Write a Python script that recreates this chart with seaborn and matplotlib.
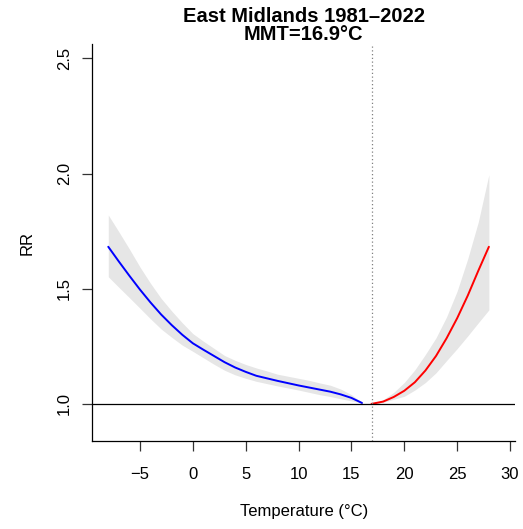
import matplotlib
matplotlib.use("Agg")
import matplotlib.pyplot as plt
import seaborn as sns
import pandas as pd
import numpy as np

# exposure-response (RR vs temperature)
mmt = 16.9
temp_cold = [-8, -7, -6, -5, -4, -3, -2, -1, 0, 1, 2, 3, 4, 5, 6, 7, 8, 9, 10, 11, 12, 13, 14, 15, 16]
rr_cold = [1.682, 1.618, 1.556, 1.496, 1.440, 1.388, 1.342, 1.300, 1.263, 1.235, 1.208, 1.181, 1.158,
           1.139, 1.122, 1.111, 1.100, 1.090, 1.080, 1.071, 1.062, 1.053, 1.041, 1.026, 1.004]
hi_cold = [1.820, 1.747, 1.672, 1.594, 1.523, 1.458, 1.403, 1.352, 1.305, 1.272, 1.241, 1.210, 1.189,
           1.171, 1.156, 1.143, 1.129, 1.120, 1.111, 1.102, 1.091, 1.081, 1.064, 1.040, 1.006]
lo_cold = [1.552, 1.506, 1.461, 1.415, 1.369, 1.325, 1.289, 1.255, 1.228, 1.200, 1.172, 1.146, 1.126,
           1.111, 1.098, 1.088, 1.078, 1.069, 1.060, 1.050, 1.040, 1.032, 1.022, 1.013, 1.004]

temp_hot = [16.9, 18, 19, 20, 21, 22, 23, 24, 25, 26, 27, 28]
rr_hot = [1.0, 1.010, 1.030, 1.057, 1.094, 1.145, 1.208, 1.285, 1.372, 1.470, 1.578, 1.682]
hi_hot = [1.0, 1.018, 1.050, 1.093, 1.148, 1.215, 1.287, 1.378, 1.490, 1.630, 1.790, 1.995]
lo_hot = [1.0, 1.007, 1.020, 1.033, 1.060, 1.093, 1.135, 1.188, 1.240, 1.295, 1.352, 1.408]

x_ticks = [-5, 0, 5, 10, 15, 20, 25, 30]
y_ticks = [1.0, 1.5, 2.0, 2.5]

cold = pd.DataFrame({"temp": temp_cold, "rr": rr_cold, "lo": lo_cold, "hi": hi_cold})
hot = pd.DataFrame({"temp": temp_hot, "rr": rr_hot, "lo": lo_hot, "hi": hi_hot})

sns.set_style("ticks")
plt.rcParams["font.family"] = ["Liberation Sans", "DejaVu Sans"]
plt.rcParams["text.color"] = "black"
plt.rcParams["axes.labelcolor"] = "black"
plt.rcParams["xtick.color"] = "black"
plt.rcParams["ytick.color"] = "black"

fig = plt.figure(figsize=(5.23, 5.29), dpi=100)
ax = fig.add_axes([0.1765, 0.1664, 0.8082, 0.7499])

ax.fill_between(cold["temp"], cold["lo"], cold["hi"], color="#e6e6e6", lw=0)
ax.fill_between(hot["temp"], hot["lo"], hot["hi"], color="#e6e6e6", lw=0)
sns.lineplot(data=cold, x="temp", y="rr", color="blue", lw=1.4, ax=ax)
sns.lineplot(data=hot, x="temp", y="rr", color="red", lw=1.4, ax=ax)

ax.axhline(1.0, color="black", lw=0.9)
ax.axvline(mmt, color="grey", lw=0.9, ls=(0, (1, 2)))

ax.set_xlim(-9.51, 30.47)
ax.set_ylim(0.839, 2.561)
ax.set_xticks(x_ticks)
ax.set_xticklabels([str(t).replace("-", "\u2212") for t in x_ticks])
ax.set_yticks(y_ticks)
ax.set_yticklabels([f"{t:.1f}" for t in y_ticks], rotation=90, va="center")
ax.tick_params(axis="both", length=7.5, width=0.9, labelsize=12, color="#333333")
ax.tick_params(axis="x", pad=11)
ax.tick_params(axis="y", pad=7)

sns.despine(ax=ax)
for s in ["left", "bottom"]:
    ax.spines[s].set_linewidth(0.9)
    ax.spines[s].set_color("black")

ax.set_xlabel("Temperature (°C)", fontsize=12, labelpad=16)
ax.set_ylabel("RR", fontsize=12, labelpad=16)
ax.set_title("East Midlands 1981\u20132022\nMMT=16.9°C", fontsize=14.5, fontweight="bold",
             linespacing=0.95, pad=1)

fig.savefig("out.png", dpi=100)
